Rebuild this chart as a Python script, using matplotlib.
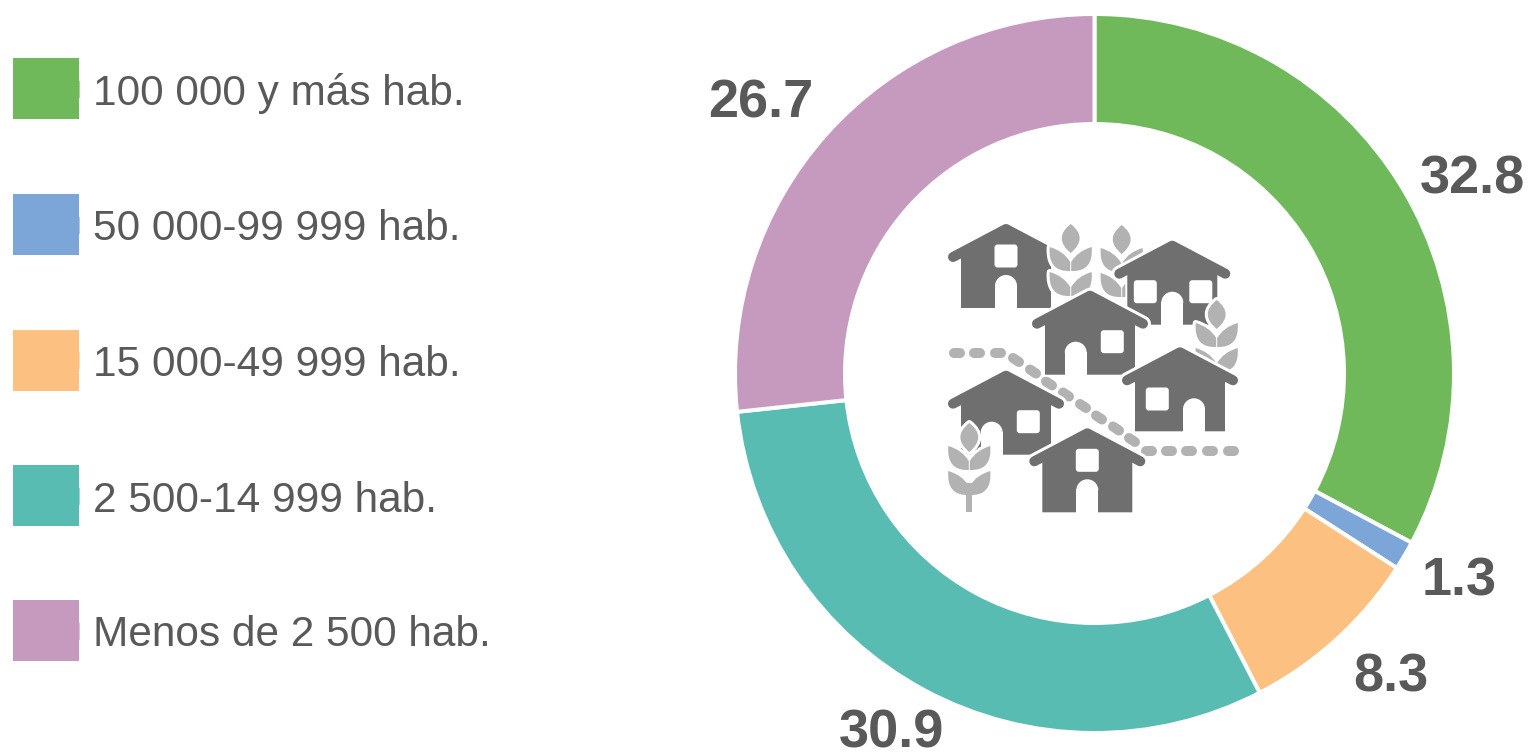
import matplotlib
matplotlib.use('Agg')
import matplotlib.pyplot as plt
from matplotlib.patches import Rectangle, FancyBboxPatch, Polygon, PathPatch, Wedge
from matplotlib.path import Path

plt.rcParams['font.family'] = ['Liberation Sans', 'DejaVu Sans']

W, H = 1532, 752

# data
categories = ['100 000 y más hab.', '50 000-99 999 hab.', '15 000-49 999 hab.',
              '2 500-14 999 hab.', 'Menos de 2 500 hab.']
values = [32.8, 1.3, 8.3, 30.9, 26.7]
value_labels = ['32.8', '1.3', '8.3', '30.9', '26.7']
colors = ['#70b95b', '#7ca5d8', '#fcc080', '#59bcb3', '#c699be']

# layout, in pixels of the picture (x centre, baseline)
label_pos = [(1472, 194), (1459, 595), (1391, 692), (892, 748), (761, 118)]
legend_y = [88.5, 224.5, 360, 495.5, 630.5]

TEXT = '#595959'
DARK = '#6f6f6f'
LIGHT = '#b2b2b2'
PT = 0.72  # one pixel in points at dpi 100

fig = plt.figure(figsize=(W / 100, H / 100), dpi=100, facecolor='white')

# donut
ax = fig.add_axes([735 / W, (H - 733) / H, 719 / W, 719 / H])
ax.pie(values, colors=colors, startangle=90, counterclock=False, radius=1.0,
       wedgeprops={'width': 0.306, 'edgecolor': 'white', 'linewidth': 4 * PT})
ax.set_xlim(-1, 1)
ax.set_ylim(-1, 1)

# overlay in pixel coordinates for legend, labels and the icon
ov = fig.add_axes([0, 0, 1, 1])
ov.set_xlim(0, W)
ov.set_ylim(H, 0)
ov.axis('off')
ov.patch.set_alpha(0)

for name, col, y in zip(categories, colors, legend_y):
    ov.add_patch(Rectangle((79, y - 8), 1.3, 17, fc=col, ec='none', alpha=0.6))
    ov.add_patch(Rectangle((13, y - 30.5), 66, 61, fc=col, ec='none'))
    ov.text(93, y + 16, name, fontsize=30.5, color=TEXT, va='baseline', ha='left')

for txt, (x, y) in zip(value_labels, label_pos):
    ov.text(x, y, txt, fontsize=39, fontweight='bold', color=TEXT, ha='center', va='baseline')

layer = [10]


# lines and patches must stack in the order they are drawn
def add(artist):
    layer[0] += 1
    artist.set_zorder(layer[0])
    return artist


def patch(p):
    ov.add_patch(add(p))


def line(xs, ys, **kw):
    ov.add_line(add(plt.Line2D(xs, ys, solid_capstyle='round', solid_joinstyle='round', **kw)))


# icon parts
def house(ax_x, ax_y, windows, door_dx):
    roof = [(ax_x - 53, ax_y + 33), (ax_x, ax_y + 5), (ax_x + 53, ax_y + 33)]
    body = [(ax_x - 45, ax_y + 26), (ax_x, ax_y + 3), (ax_x + 45, ax_y + 26),
            (ax_x + 45, ax_y + 84), (ax_x - 45, ax_y + 84)]
    rx, ry = zip(*roof)
    line(rx, ry, color='white', lw=16 * PT)
    patch(Polygon(body, closed=True, fc='white', ec='white', lw=4 * PT))
    patch(Polygon(body, closed=True, fc=DARK, ec='none'))
    line(rx, ry, color=DARK, lw=10 * PT)
    for dx, dy in windows:
        patch(FancyBboxPatch((ax_x + dx - 9.5, ax_y + dy - 9.5), 19, 19,
                             boxstyle='round,pad=2,rounding_size=3', fc='white', ec='none'))
    patch(Rectangle((ax_x + door_dx - 11, ax_y + 61), 22, 23.5, fc='white', ec='none'))
    patch(Wedge((ax_x + door_dx, ax_y + 62), 11, 180, 360, fc='white', ec='none'))


def wheat(cx, top, pairs=2, stem=False):
    q = [Path.MOVETO, Path.CURVE3, Path.CURVE3, Path.CURVE3, Path.CURVE3, Path.CLOSEPOLY]
    code = [Path.MOVETO, Path.CURVE3, Path.CURVE3, Path.LINETO, Path.CURVE3, Path.CURVE3, Path.CLOSEPOLY]
    parts = [Path([(cx, top), (cx + 18, top + 14), (cx, top + 29), (cx - 18, top + 14), (cx, top), (cx, top)], q)]
    for i in range(pairs):
        y = top + 23 + 25 * i
        for s in (-1, 1):
            parts.append(Path([(cx + s * 21, y), (cx + s * 7, y + 4), (cx + s * 0.5, y + 15),
                               (cx + s * 0.5, y + 24), (cx + s * 23, y + 25), (cx + s * 21, y), (cx + s * 21, y)], code))
    for p in parts:
        patch(PathPatch(p, fc='white', ec='white', lw=6 * PT, joinstyle='round'))
    for p in parts:
        patch(PathPatch(p, fc=LIGHT, ec='none'))
    if stem:
        patch(Rectangle((cx - 3, top + 60), 6, 29, fc=LIGHT, ec='none'))


# road dots
flat1 = [(957, 352.5), (977, 352.5), (998, 352.5)]
diag = [(1016, 360), (1033, 371.5), (1049, 383.5), (1066, 394.5), (1083, 406), (1099, 417.5), (1116, 428.5), (1132, 440)]
flat2 = [(1149, 451), (1169, 451), (1189, 451), (1210, 451), (1231, 451)]
for x, y in flat1 + flat2:
    line([x - 3, x + 3], [y, y], color=LIGHT, lw=10 * PT)
for x, y in diag:
    line([x - 3, x + 3], [y - 2, y + 2], color=LIGHT, lw=10 * PT)

house(1006, 224, [(0, 32)], 0)
wheat(1070.7, 224)
wheat(1121.7, 225)
house(1172.3, 240.7, [(-27, 51), (28.5, 51)], 0)
house(1090, 290.7, [(22.3, 51)], -14.3)
wheat(1216.7, 300)
house(1180, 347.3, [(-22.7, 51.7)], 14)
house(1006, 370.7, [(22.3, 51)], -14.3)
wheat(969.3, 423, stem=True)
house(1087.3, 428.3, [(0, 32)], 0)

fig.savefig('out.png', dpi=100, facecolor='white')
